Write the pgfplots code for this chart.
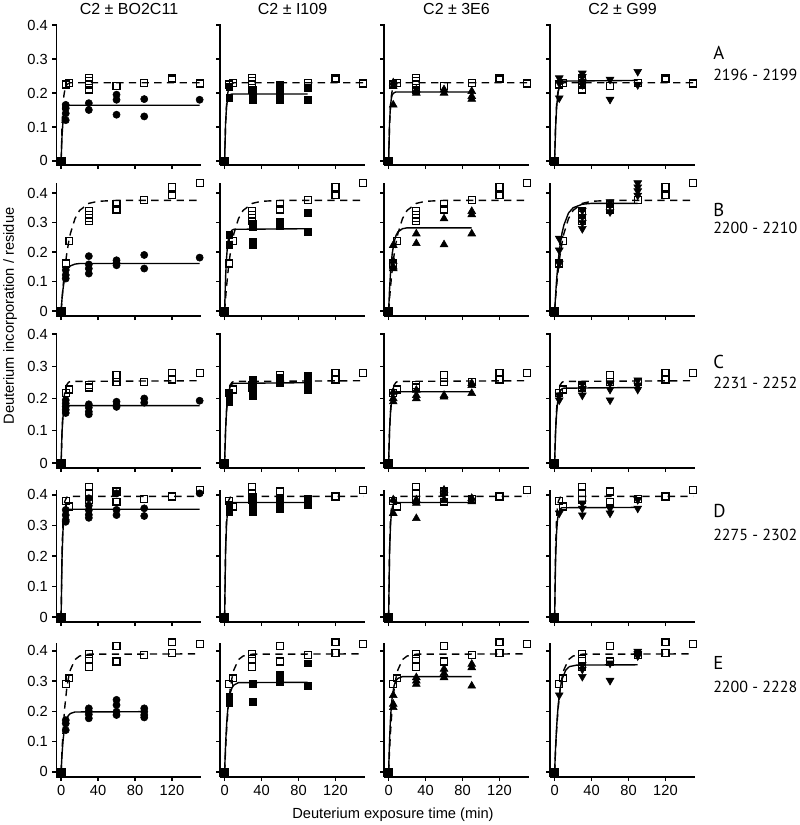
\documentclass[border=0pt]{standalone}
\usepackage{fontspec}
\setmainfont{Liberation Sans}
\newfontfamily\rowfont{PT Sans}
\usepackage{pgfplots}
\usepackage{pgfplotstable}
\pgfplotsset{compat=1.18}

% C2 alone (open squares), one table per peptide row
\pgfplotstableread{
t y
5 0.225
9 0.23
30 0.245
30 0.235
30 0.225
30 0.21
60 0.22
90 0.23
120 0.245
120 0.24
150 0.228
}\CtwoA
\pgfplotstableread{
t y
5 0.161
9 0.238
30 0.34
30 0.325
30 0.315
30 0.305
60 0.364
60 0.344
90 0.377
120 0.42
120 0.392
150 0.434
}\CtwoB
\pgfplotstableread{
t y
5 0.216
9 0.228
30 0.241
30 0.234
60 0.272
60 0.252
90 0.25
120 0.278
120 0.259
150 0.28
}\CtwoC
\pgfplotstableread{
t y
5 0.381
9 0.362
30 0.427
30 0.405
30 0.384
60 0.411
60 0.378
90 0.386
120 0.395
120 0.392
150 0.416
}\CtwoD
\pgfplotstableread{
t y
5 0.29
9 0.309
30 0.39
30 0.372
30 0.346
60 0.417
60 0.365
90 0.387
120 0.428
120 0.394
150 0.423
}\CtwoE
% C2 alone fitted curves (dashed)
\pgfplotstableread{
t y
0 0
1 0.104
2 0.161
3 0.192
4 0.209
6 0.224
8 0.228
10 0.230
150 0.230
}\FitA
\pgfplotstableread{
t y
0 0
2 0.080
4 0.143
6 0.192
8 0.231
10 0.262
15 0.313
20 0.341
30 0.365
40 0.372
60 0.375
150 0.375
}\FitB
\pgfplotstableread{
t y
0 0
1 0.100
2 0.161
3 0.198
4 0.221
6 0.242
8 0.250
10 0.253
150 0.255
}\FitC
\pgfplotstableread{
t y
0 0
1 0.218
2 0.315
3 0.359
4 0.379
6 0.392
8 0.394
10 0.395
150 0.395
}\FitD
\pgfplotstableread{
t y
0 0
1 0.071
2 0.129
3 0.176
4 0.215
6 0.273
8 0.311
10 0.337
15 0.371
20 0.383
30 0.389
150 0.39
}\FitE

\pgfplotsset{
  panel/.style={
    scale only axis, width=108.75pt,
    xmin=-5, xmax=152,
    axis x line*=bottom, axis y line*=left,
    axis line style={-, line width=1.2pt},
    tick align=outside, major tick length=3pt,
    every tick/.style={black, line width=1pt},
    xtick={0,40,80,120}, ytick={0,0.1,0.2,0.3,0.4},
    xticklabels={}, yticklabels={},
    clip=false, anchor=south west,
    tick label style={font=\fontsize{11}{13}\selectfont},
  },
  ylab/.style={yticklabels={0,0.1,0.2,0.3,0.4}},
  xlab/.style={xticklabels={0,40,80,120}},
  rowA/.style={height=105.75pt, ymin=-0.012, ymax=0.403},
  rowB/.style={height=99.75pt, ymin=-0.017, ymax=0.434},
  rowC/.style={height=101.25pt, ymin=-0.0155, ymax=0.403},
  rowD/.style={height=99pt, ymin=-0.016, ymax=0.416},
  rowE/.style={height=100.5pt, ymin=-0.017, ymax=0.426},
  open/.style={only marks, mark=square, mark size=2.6pt, mark options={fill=white, draw=black, line width=0.9pt, solid}},
  circ/.style={only marks, mark=*, mark size=2.7pt, black},
  sq/.style={only marks, mark=square*, mark size=2.6pt, black},
  tri/.style={only marks, mark=triangle*, mark size=3.4pt, black},
  itri/.style={only marks, mark=triangle*, mark size=3.4pt, black, mark options={rotate=180}},
  zero/.style={only marks, mark=square*, mark size=2.8pt, black},
  fitd/.style={no marks, black, line width=1.05pt, dash pattern=on 5.5pt off 4pt},
  fits/.style={no marks, black, line width=1.05pt},
}

\begin{document}
\begin{tikzpicture}
\path[use as bounding box] (0,0) rectangle (600pt,-618.75pt);

% ================= ROW A =================
\begin{axis}[panel, rowA, ylab, at={(42.375pt,-123.75pt)}]
\addplot[circ] coordinates {(5,0.165) (5,0.155) (5,0.14) (5,0.12) (30,0.17) (30,0.15) (60,0.195) (60,0.18) (60,0.136) (90,0.182) (90,0.131) (150,0.18)};
\addplot[open] table {\CtwoA};
\addplot[fits] coordinates {(0,0) (1,0.074) (2,0.115) (3,0.137) (4,0.149) (6,0.160) (8,0.163) (10,0.164) (150,0.164)};
\addplot[fitd] table {\FitA};
\addplot[zero] coordinates {(0,0)};
\end{axis}
\begin{axis}[panel, rowA, at={(165pt,-123.75pt)}]
\addplot[sq] coordinates {(5,0.217) (5,0.185) (30,0.21) (30,0.2) (30,0.18) (60,0.224) (60,0.21) (60,0.195) (60,0.18) (90,0.214) (90,0.18)};
\addplot[open] table {\CtwoA};
\addplot[fits] coordinates {(0,0) (1,0.109) (2,0.157) (3,0.179) (4,0.189) (6,0.195) (8,0.197) (90,0.197)};
\addplot[fitd] table {\FitA};
\addplot[zero] coordinates {(0,0)};
\end{axis}
\begin{axis}[panel, rowA, at={(288pt,-123.75pt)}]
\addplot[tri] coordinates {(5,0.165) (5,0.22) (5,0.23) (30,0.209) (30,0.2) (60,0.21) (60,0.2) (90,0.205) (90,0.19) (90,0.182)};
\addplot[open] table {\CtwoA};
\addplot[fits] coordinates {(0,0) (1,0.112) (2,0.162) (3,0.185) (4,0.195) (6,0.201) (8,0.203) (90,0.203)};
\addplot[fitd] table {\FitA};
\addplot[zero] coordinates {(0,0)};
\end{axis}
\begin{axis}[panel, rowA, at={(412.5pt,-123.75pt)}]
\addplot[open] table {\CtwoA};
\addplot[itri] coordinates {(5,0.244) (5,0.229) (5,0.185) (30,0.258) (30,0.248) (30,0.234) (30,0.224) (60,0.24) (60,0.181) (90,0.263) (90,0.224)};
\addplot[fits] coordinates {(0,0) (1,0.093) (2,0.150) (3,0.184) (4,0.205) (6,0.225) (8,0.233) (10,0.235) (90,0.237)};
\addplot[fitd] table {\FitA};
\addplot[zero] coordinates {(0,0)};
\end{axis}

% ================= ROW B =================
\begin{axis}[panel, rowB, ylab, at={(42.375pt,-237pt)}]
\addplot[circ] coordinates {(5,0.139) (5,0.122) (5,0.11) (30,0.186) (30,0.158) (30,0.144) (30,0.127) (60,0.172) (60,0.163) (60,0.155) (90,0.19) (90,0.144) (150,0.181)};
\addplot[open] table {\CtwoB};
\addplot[fits] coordinates {(0,0) (1,0.042) (2,0.073) (3,0.095) (4,0.113) (6,0.134) (8,0.146) (10,0.153) (15,0.159) (20,0.161) (150,0.161)};
\addplot[fitd] table {\FitB};
\addplot[zero] coordinates {(0,0)};
\end{axis}
\begin{axis}[panel, rowB, at={(165pt,-237pt)}]
\addplot[sq] coordinates {(5,0.26) (5,0.226) (30,0.296) (30,0.285) (30,0.234) (30,0.226) (60,0.302) (60,0.29) (90,0.332) (90,0.27)};
\addplot[open] table {\CtwoB};
\addplot[fits] coordinates {(0,0) (1,0.110) (2,0.176) (3,0.217) (4,0.241) (6,0.265) (8,0.274) (10,0.277) (90,0.279)};
\addplot[fitd] table {\FitB};
\addplot[zero] coordinates {(0,0)};
\end{axis}
\begin{axis}[panel, rowB, at={(288pt,-237pt)}]
\addplot[tri] coordinates {(5,0.223) (5,0.169) (5,0.15) (5,0.144) (30,0.262) (30,0.229) (60,0.313) (60,0.225) (90,0.338) (90,0.327) (90,0.262)};
\addplot[open] table {\CtwoB};
\addplot[fits] coordinates {(0,0) (1,0.073) (2,0.127) (3,0.167) (4,0.197) (6,0.235) (8,0.256) (10,0.268) (15,0.279) (20,0.282) (90,0.282)};
\addplot[fitd] table {\FitB};
\addplot[zero] coordinates {(0,0)};
\end{axis}
\begin{axis}[panel, rowB, at={(412.5pt,-237pt)}]
\addplot[open] table {\CtwoB};
\addplot[itri] coordinates {(5,0.246) (5,0.206) (5,0.161) (30,0.341) (30,0.32) (30,0.3) (30,0.279) (60,0.37) (60,0.358) (60,0.336) (90,0.434) (90,0.42) (90,0.407) (90,0.392)};
\addplot[fits] coordinates {(0,0) (2,0.100) (4,0.173) (6,0.225) (8,0.264) (10,0.291) (15,0.332) (20,0.350) (30,0.362) (40,0.365) (90,0.365)};
\addplot[fitd] table {\FitB};
\addplot[zero] coordinates {(0,0)};
\end{axis}

% ================= ROW C =================
\begin{axis}[panel, rowC, ylab, at={(42.375pt,-351pt)}]
\addplot[circ] coordinates {(5,0.195) (5,0.185) (5,0.175) (5,0.165) (5,0.155) (30,0.182) (30,0.172) (30,0.159) (30,0.151) (60,0.19) (60,0.179) (60,0.174) (90,0.2) (90,0.187) (150,0.193)};
\addplot[open] table {\CtwoC};
\addplot[fits] coordinates {(0,0) (1,0.098) (2,0.142) (3,0.162) (4,0.171) (6,0.177) (8,0.178) (150,0.178)};
\addplot[fitd] table {\FitC};
\addplot[zero] coordinates {(0,0)};
\end{axis}
\begin{axis}[panel, rowC, at={(165pt,-351pt)}]
\addplot[sq] coordinates {(5,0.216) (5,0.19) (30,0.257) (30,0.247) (30,0.228) (30,0.207) (60,0.265) (60,0.257) (60,0.249) (90,0.272) (90,0.262) (90,0.241) (90,0.226)};
\addplot[open] table {\CtwoC};
\addplot[fits] coordinates {(0,0) (1,0.098) (2,0.157) (3,0.193) (4,0.215) (6,0.237) (8,0.245) (10,0.247) (90,0.249)};
\addplot[fitd] table {\FitC};
\addplot[zero] coordinates {(0,0)};
\end{axis}
\begin{axis}[panel, rowC, at={(288pt,-351pt)}]
\addplot[tri] coordinates {(5,0.22) (5,0.2) (5,0.19) (30,0.226) (30,0.21) (30,0.2) (60,0.21) (60,0.205) (90,0.247) (90,0.241) (90,0.216)};
\addplot[open] table {\CtwoC};
\addplot[fits] coordinates {(0,0) (1,0.100) (2,0.154) (3,0.185) (4,0.201) (6,0.215) (8,0.219) (10,0.221) (90,0.221)};
\addplot[fitd] table {\FitC};
\addplot[zero] coordinates {(0,0)};
\end{axis}
\begin{axis}[panel, rowC, at={(412.5pt,-351pt)}]
\addplot[open] table {\CtwoC};
\addplot[itri] coordinates {(5,0.21) (5,0.195) (30,0.247) (30,0.231) (30,0.21) (60,0.247) (60,0.228) (60,0.195) (90,0.257) (90,0.241) (90,0.228)};
\addplot[fits] coordinates {(0,0) (1,0.092) (2,0.148) (3,0.182) (4,0.202) (6,0.222) (8,0.230) (10,0.232) (90,0.234)};
\addplot[fitd] table {\FitC};
\addplot[zero] coordinates {(0,0)};
\end{axis}

% ================= ROW D =================
\begin{axis}[panel, rowD, ylab, at={(42.375pt,-466.5pt)}]
\addplot[circ] coordinates {(5,0.351) (5,0.334) (5,0.318) (5,0.312) (30,0.389) (30,0.365) (30,0.35) (30,0.335) (30,0.325) (60,0.405) (60,0.351) (60,0.334) (90,0.356) (90,0.331) (150,0.405)};
\addplot[open] table {\CtwoD};
\addplot[fits] coordinates {(0,0) (1,0.195) (2,0.282) (3,0.321) (4,0.339) (6,0.350) (8,0.352) (10,0.353) (150,0.353)};
\addplot[fitd] table {\FitD};
\addplot[zero] coordinates {(0,0)};
\end{axis}
\begin{axis}[panel, rowD, at={(165pt,-466.5pt)}]
\addplot[sq] coordinates {(5,0.367) (5,0.345) (30,0.395) (30,0.378) (30,0.362) (30,0.345) (60,0.389) (60,0.373) (60,0.356) (90,0.384) (90,0.367)};
\addplot[open] table {\CtwoD};
\addplot[fits] coordinates {(0,0) (1,0.207) (2,0.299) (3,0.341) (4,0.360) (6,0.372) (8,0.374) (10,0.375) (90,0.375)};
\addplot[fitd] table {\FitD};
\addplot[zero] coordinates {(0,0)};
\end{axis}
\begin{axis}[panel, rowD, at={(288pt,-466.5pt)}]
\addplot[tri] coordinates {(5,0.384) (5,0.34) (30,0.384) (30,0.373) (30,0.323) (60,0.416) (60,0.405) (60,0.384) (90,0.389) (90,0.378)};
\addplot[open] table {\CtwoD};
\addplot[fits] coordinates {(0,0) (1,0.207) (2,0.299) (3,0.341) (4,0.360) (6,0.372) (8,0.374) (10,0.375) (90,0.375)};
\addplot[fitd] table {\FitD};
\addplot[zero] coordinates {(0,0)};
\end{axis}
\begin{axis}[panel, rowD, at={(412.5pt,-466.5pt)}]
\addplot[open] table {\CtwoD};
\addplot[itri] coordinates {(5,0.34) (30,0.373) (30,0.356) (30,0.334) (60,0.356) (60,0.34) (90,0.384) (90,0.356)};
\addplot[fits] coordinates {(0,0) (1,0.181) (2,0.270) (3,0.315) (4,0.337) (6,0.354) (8,0.358) (90,0.359)};
\addplot[fitd] table {\FitD};
\addplot[zero] coordinates {(0,0)};
\end{axis}

% ================= ROW E =================
\begin{axis}[panel, rowE, ylab, xlab, at={(42.375pt,-582.75pt)}]
\addplot[circ] coordinates {(5,0.171) (5,0.16) (5,0.138) (30,0.21) (30,0.2) (30,0.19) (30,0.177) (60,0.238) (60,0.221) (60,0.199) (60,0.188) (90,0.21) (90,0.199) (90,0.188) (90,0.18)};
\addplot[open] table {\CtwoE};
\addplot[fits] coordinates {(0,0) (1,0.059) (2,0.100) (3,0.129) (4,0.150) (6,0.175) (8,0.187) (10,0.193) (15,0.198) (90,0.199)};
\addplot[fitd] table {\FitE};
\addplot[zero] coordinates {(0,0)};
\end{axis}
\begin{axis}[panel, rowE, xlab, at={(165pt,-582.75pt)}]
\addplot[sq] coordinates {(5,0.249) (5,0.238) (5,0.227) (30,0.29) (30,0.232) (60,0.32) (60,0.298) (90,0.359) (90,0.284)};
\addplot[open] table {\CtwoE};
\addplot[fits] coordinates {(0,0) (1,0.087) (2,0.149) (3,0.192) (4,0.223) (6,0.260) (8,0.278) (10,0.287) (15,0.295) (90,0.296)};
\addplot[fitd] table {\FitE};
\addplot[zero] coordinates {(0,0)};
\end{axis}
\begin{axis}[panel, rowE, xlab, at={(288pt,-582.75pt)}]
\addplot[tri] coordinates {(5,0.253) (5,0.224) (5,0.213) (30,0.312) (30,0.301) (30,0.29) (60,0.34) (60,0.326) (60,0.312) (90,0.356) (90,0.345) (90,0.284)};
\addplot[open] table {\CtwoE};
\addplot[fits] coordinates {(0,0) (1,0.104) (2,0.174) (3,0.220) (4,0.251) (6,0.286) (8,0.302) (10,0.309) (15,0.315) (90,0.315)};
\addplot[fitd] table {\FitE};
\addplot[zero] coordinates {(0,0)};
\end{axis}
\begin{axis}[panel, rowE, xlab, at={(412.5pt,-582.75pt)}]
\addplot[open] table {\CtwoE};
\addplot[itri] coordinates {(5,0.254) (30,0.354) (30,0.339) (30,0.315) (60,0.359) (60,0.302) (90,0.398) (90,0.39) (90,0.383)};
\addplot[fits] coordinates {(0,0) (1,0.078) (2,0.139) (3,0.187) (4,0.224) (6,0.275) (8,0.306) (12,0.336) (16,0.348) (24,0.353) (90,0.354)};
\addplot[fitd] table {\FitE};
\addplot[zero] coordinates {(0,0)};
\end{axis}

% ================= TEXT =================
\begin{scope}[every node/.style={font=\fontsize{12}{14}\selectfont, inner sep=0pt, anchor=base}]
\node at (96.75pt,-10.5pt) {C2 ± BO2C11};
\node at (219.4pt,-10.5pt) {C2 ± I109};
\node at (342.4pt,-10.5pt) {C2 ± 3E6};
\node at (466.9pt,-10.5pt) {C2 ± G99};
\end{scope}
\begin{scope}[every node/.style={font=\rowfont\fontsize{12}{14}\selectfont, inner sep=0pt, anchor=west}]
\node[font=\rowfont\fontsize{14}{16}\selectfont] at (534.75pt,-39.75pt) {A};
\node at (534.75pt,-56.25pt) {2196 - 2199};
\node[font=\rowfont\fontsize{14}{16}\selectfont] at (534.75pt,-157.5pt) {B};
\node at (534.75pt,-171pt) {2200 - 2210};
\node[font=\rowfont\fontsize{14}{16}\selectfont] at (534.75pt,-271.5pt) {C};
\node at (534.75pt,-287.25pt) {2231 - 2252};
\node[font=\rowfont\fontsize{14}{16}\selectfont] at (534.75pt,-383.25pt) {D};
\node at (534.75pt,-401.25pt) {2275 - 2302};
\node[font=\rowfont\fontsize{14}{16}\selectfont] at (534.75pt,-497.25pt) {E};
\node at (534.75pt,-515.25pt) {2200 - 2228};
\end{scope}
\node[font=\fontsize{11}{13}\selectfont, rotate=90, inner sep=0pt] at (7.5pt,-237pt) {Deuterium incorporation / residue};
\node[font=\fontsize{11}{13}\selectfont, inner sep=0pt] at (294.75pt,-611.25pt) {Deuterium exposure time (min)};
\end{tikzpicture}
\end{document}
